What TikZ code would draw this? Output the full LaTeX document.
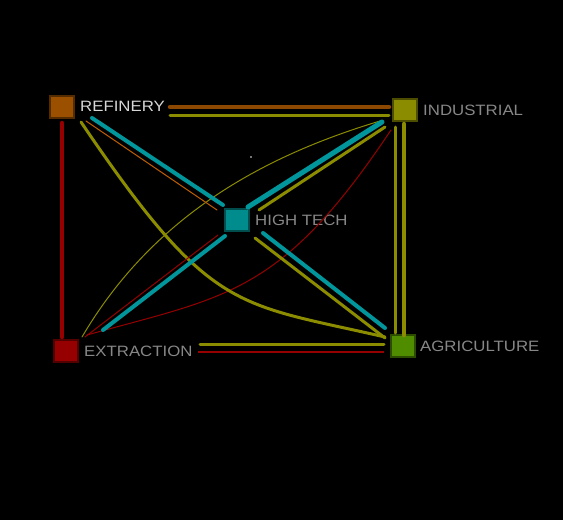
\documentclass[tikz,border=0pt]{standalone}
\usepackage{fontspec}
\newfontfamily\lblfont[FakeStretch=1.12]{Liberation Sans}
\definecolor{cbrown}{RGB}{140,72,0}
\definecolor{colive}{RGB}{140,140,0}
\definecolor{cteal}{RGB}{0,150,155}
\definecolor{cred}{RGB}{150,0,0}
\definecolor{corange}{RGB}{190,95,0}
\definecolor{sqref}{RGB}{155,80,0}
\definecolor{sqind}{RGB}{140,140,0}
\definecolor{sqht}{RGB}{0,140,140}
\definecolor{sqext}{RGB}{150,0,0}
\definecolor{sqagr}{RGB}{80,140,0}
\definecolor{lblbright}{RGB}{215,215,215}
\definecolor{lblgray}{RGB}{135,135,135}
\tikzset{
  sq/.style={minimum width=24pt, minimum height=22pt, inner sep=0pt, fill=#1, draw=#1!55!black, line width=1.5pt},
  lbl/.style={anchor=west, inner sep=0pt, text=#1, font=\lblfont\fontsize{15}{18}\selectfont},
  thickln/.style={line width=4.5pt, line cap=round, draw=#1},
  midln/.style={line width=3pt, line cap=round, draw=#1},
  thinln/.style={line width=1pt, line cap=round, draw=#1},
}
\begin{document}
\begin{tikzpicture}[x=1pt,y=-1pt]
\fill[black] (0,0) rectangle (563,520);
\useasboundingbox (0,0) rectangle (563,520);

% nodes
\node[sq=sqref] (ref) at (62,107) {};
\node[sq=sqind] (ind) at (405,110) {};
\node[sq=sqht]  (ht)  at (237,220) {};
\node[sq=sqext] (ext) at (66,351) {};
\node[sq=sqagr] (agr) at (403,346) {};

\node[lbl=lblbright] (reflbl) at (80,106) {REFINERY};
\node[lbl=lblgray] (indlbl) at (423,110) {INDUSTRIAL};
\node[lbl=lblgray] (htlbl) at (255,220) {HIGH TECH};
\node[lbl=lblgray] (extlbl) at (84,351) {EXTRACTION};
\node[lbl=lblgray] (agrlbl) at (420,346) {AGRICULTURE};

% curves (drawn first, thin)
\draw[thinln=colive] ([shift={(-25,11)}]ind.center) .. controls (260,157) and (152,218) .. ([shift={(16,-14)}]ext.center);
\draw[thinln=cred] ([shift={(-14,20)}]ind.center) .. controls (281,295) and (227,296) .. ([shift={(21,-16)}]ext.center);
\draw[midln=colive] ([shift={(19,15)}]ref.center) .. controls (211,314) and (235,302.5) .. ([shift={(-18,-9)}]agr.center);

% refinery - industrial
\draw[thickln=cbrown] ([shift={(108,0)}]ref.center) -- ([shift={(-16,-3)}]ind.center);
\draw[midln=colive] ([shift={(108,8)}]ref.center) -- ([shift={(-16,5)}]ind.center);
% refinery - extraction
\draw[thickln=cred] ([shift={(0,16)}]ref.center) -- ([shift={(-4,-14)}]ext.center);
% industrial - agriculture
\draw[midln=colive] ([shift={(-10,17)}]ind.center) -- ([shift={(-8,-13)}]agr.center);
\draw[thickln=colive] ([shift={(-1,14)}]ind.center) -- ([shift={(1,-11)}]agr.center);
% extraction - agriculture
\draw[midln=colive] ([shift={(134,-7)}]ext.center) -- ([shift={(-19,-2)}]agr.center);
\draw[line width=1.3pt, draw=cred] ([shift={(132,1)}]ext.center) -- ([shift={(-19,6)}]agr.center);
% refinery - high tech
\draw[thickln=cteal, line width=4pt] ([shift={(30,11)}]ref.center) -- ([shift={(-14,-15)}]ht.center);
\draw[thinln=corange] ([shift={(24,14)}]ref.center) -- ([shift={(-20,-10)}]ht.center);
% industrial - high tech
\draw[thickln=cteal, line width=5pt] ([shift={(-23,12)}]ind.center) -- ([shift={(11,-13)}]ht.center);
\draw[midln=colive] ([shift={(-20,17)}]ind.center) -- ([shift={(22,-10)}]ht.center);
% high tech - extraction
\draw[thickln=cteal, line width=4pt] ([shift={(-12,16)}]ht.center) -- ([shift={(37,-21)}]ext.center);
\draw[thinln=cred] ([shift={(-19,15)}]ht.center) -- ([shift={(19,-14)}]ext.center);
% high tech - agriculture
\draw[thickln=cteal, line width=4pt] ([shift={(26,13)}]ht.center) -- ([shift={(-18,-18)}]agr.center);
\draw[midln=colive] ([shift={(18,18)}]ht.center) -- ([shift={(-18,-8)}]agr.center);

% small speck
\fill[white!85!gray] (251,157) circle (0.8);
\end{tikzpicture}
\end{document}
